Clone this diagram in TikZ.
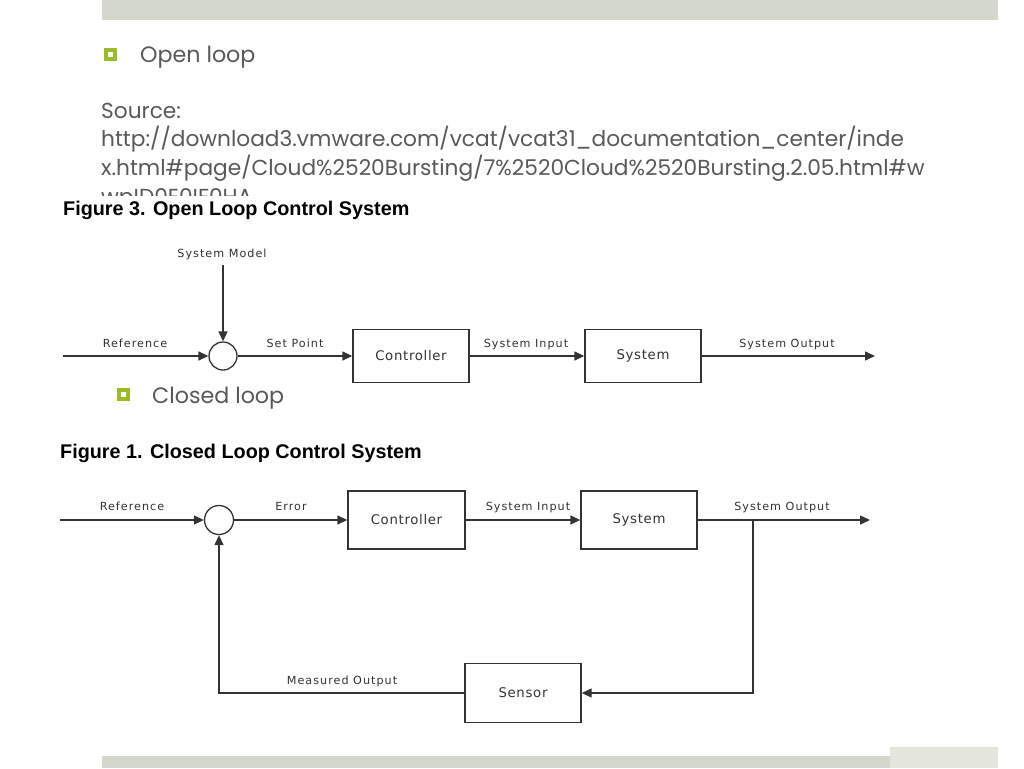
\documentclass[tikz,border=0pt]{standalone}
\usepackage{fontspec}
\usetikzlibrary{arrows.meta}
\newfontfamily\slidefont{Poppins}
\newfontfamily\figfont[LetterSpace=9]{DejaVu Sans}
\newfontfamily\boxfont[LetterSpace=5]{DejaVu Sans}
\newfontfamily\titlefont{Liberation Sans}
\definecolor{barc}{HTML}{D5D8CC}
\definecolor{barlight}{HTML}{E4E6DE}
\definecolor{bulletgreen}{HTML}{9BBB27}
\definecolor{slidetext}{HTML}{595959}
\definecolor{ink}{HTML}{333333}
\tikzset{
  bulletsq/.style={draw=bulletgreen,line width=4pt,fill=white,minimum size=9pt,inner sep=0pt},
  slidetxt/.style={anchor=base west,inner sep=0pt,font=\slidefont\fontsize{22.2}{26}\selectfont,text=slidetext},
  srctxt/.style={slidetxt,font=\slidefont\fontsize{21.7}{26}\selectfont},
  figtitle/.style={anchor=base west,inner sep=0pt,font=\titlefont\bfseries\fontsize{19.8}{22}\selectfont,text=black},
  lbl/.style={anchor=base,inner sep=0pt,font=\figfont\fontsize{11.2}{13}\selectfont,text=ink},
  blk/.style={draw=ink,line width=1.4pt,fill=white,minimum width=116pt,minimum height=53pt,inner sep=0pt,font=\boxfont\fontsize{13.3}{15}\selectfont,text=ink},
  sumpt/.style={circle,draw=ink,line width=1.3pt,fill=white,minimum size=28pt,inner sep=0pt},
  conn/.style={draw=ink,line width=1.4pt},
  arr/.style={conn,-{Triangle[length=10pt,width=9pt]}}
}
\begin{document}
\begin{tikzpicture}[x=1pt,y=-1pt]
\useasboundingbox[fill=white] (0,0) rectangle (1024,768);
% slide bars
\fill[barc] (102,0) rectangle (998,20);
\fill[barc] (102,756) rectangle (890,768);
\fill[barlight] (890,747) rectangle (998,768);
% slide text
\node[bulletsq] (b1) at (110.5,54.5) {};
\node[slidetxt] (t1) at (140,63) {Open loop};
\node[srctxt] (s0) at (101,118) {Source:};
\node[srctxt] (s1) at (101,146) {http://download3.vmware.com/vcat/vcat31\_documentation\_center/inde};
\node[srctxt] (s2) at (101,175) {x.html\#page/Cloud\%2520Bursting/7\%2520Cloud\%2520Bursting.2.05.html\#w};
\node[srctxt] (s3) at (101,204) {wpID0E0IF0HA};
% open-loop figure (image covers the last line)
\fill[white] (55,196) rectangle (885,386);
\node[figtitle] (f3) at (63,215) {Figure 3. Open Loop Control System};
\node[sumpt] (c1) at (223,356) {};
\coordinate (ref1) at (63,356);
\coordinate (sm) at (223,265);
\coordinate (out1) at (875,356);
\node[blk] (ctrl1) at (411,356) {Controller};
\node[blk] (sys1) at (643,356) {System};
\node[lbl] (lsm) at (222,257) {System Model};
\node[lbl] (lref1) at (135,347) {Reference};
\node[lbl] (lsp) at (295,347) {Set Point};
\node[lbl] (lsi1) at (526,347) {System Input};
\node[lbl] (lso1) at (787,347) {System Output};
\draw[arr] (sm) -- (c1);
\draw[arr] (ref1) -- (c1);
\draw[arr] (c1) -- (ctrl1);
\draw[arr] (ctrl1) -- (sys1);
\draw[arr] (sys1) -- (out1);
% closed loop bullet
\node[bulletsq] (b2) at (123.5,394.5) {};
\node[slidetxt] (t2) at (152,403) {Closed loop};
% closed-loop figure
\node[figtitle] (f1) at (60,458) {Figure 1. Closed Loop Control System};
\node[sumpt,minimum size=29pt] (c2) at (219,520) {};
\coordinate (ref2) at (60,520);
\coordinate (out2) at (870,520);
\coordinate (br) at (753,520);
\node[blk,minimum width=117pt,minimum height=58pt] (ctrl2) at (406.5,520) {Controller};
\node[blk,minimum height=58pt] (sys2) at (639,520) {System};
\node[blk,minimum height=59pt] (sens) at (523,693) {Sensor};
\node[lbl] (lref2) at (132,510) {Reference};
\node[lbl] (lerr) at (291,510) {Error};
\node[lbl] (lsi2) at (528,510) {System Input};
\node[lbl] (lso2) at (782,510) {System Output};
\node[lbl] (lmo) at (342,684) {Measured Output};
\draw[arr] (ref2) -- (c2);
\draw[arr] (c2) -- (ctrl2);
\draw[arr] (ctrl2) -- (sys2);
\draw[arr] (sys2) -- (out2);
\draw[arr] (br) |- (sens.east);
\draw[arr] (sens.west) -| (c2.south);
\end{tikzpicture}
\end{document}
